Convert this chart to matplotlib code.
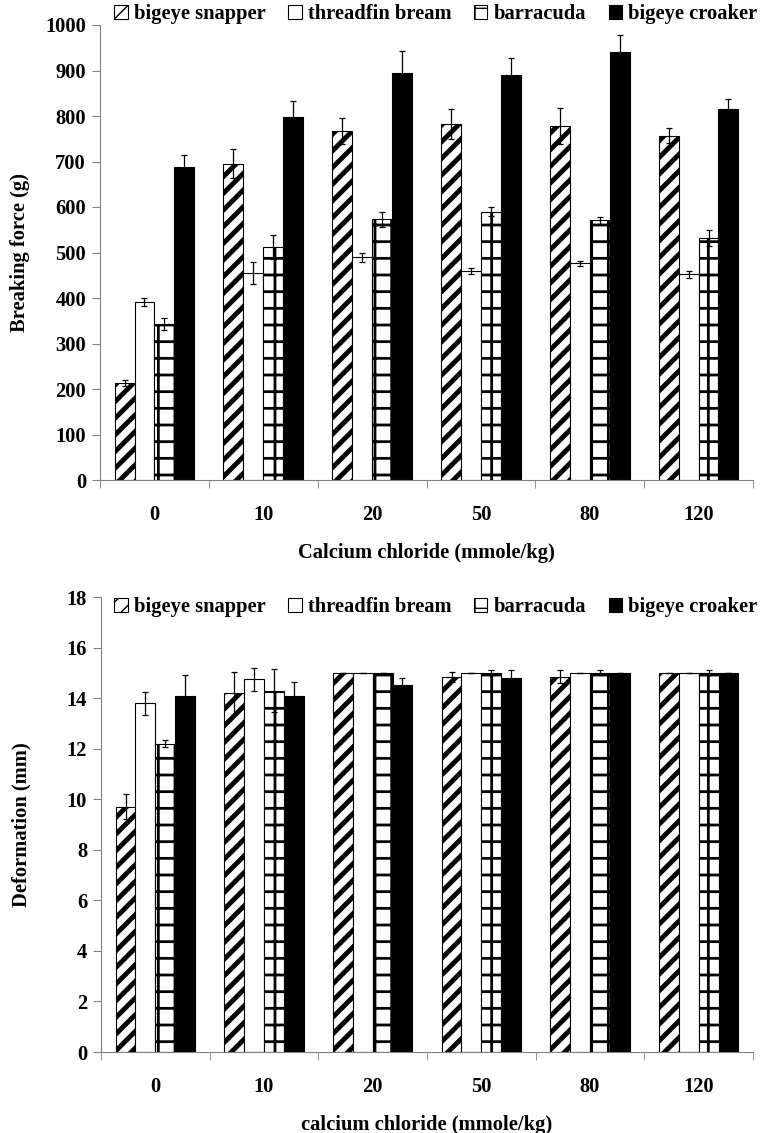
import numpy as np
import matplotlib
matplotlib.use("Agg")
import matplotlib.pyplot as plt

plt.rcParams['font.family'] = ['Liberation Serif', 'DejaVu Serif']
plt.rcParams['font.weight'] = 'bold'

categories = ['0', '10', '20', '50', '80', '120']
species = ['bigeye snapper', 'threadfin bream', 'barracuda', 'bigeye croaker']

# breaking force (g)
force_snapper = [213, 695, 767, 782, 778, 757]
force_bream = [392, 455, 490, 460, 476, 452]
force_barracuda = [343, 512, 573, 590, 571, 532]
force_croaker = [689, 798, 895, 891, 941, 815]
force_err_snapper = [7, 32, 28, 33, 40, 17]
force_err_bream = [9, 24, 10, 7, 6, 8]
force_err_barracuda = [13, 27, 17, 9, 8, 18]
force_err_croaker = [25, 36, 48, 37, 37, 23]

# deformation (mm)
deform_snapper = [9.7, 14.2, 15.0, 14.85, 14.85, 15.0]
deform_bream = [13.8, 14.75, 15.0, 15.0, 15.0, 15.0]
deform_barracuda = [12.2, 14.3, 15.0, 15.0, 15.0, 15.0]
deform_croaker = [14.1, 14.1, 14.5, 14.8, 15.0, 15.0]
deform_err_snapper = [0.5, 0.85, 0, 0.2, 0.25, 0]
deform_err_bream = [0.45, 0.45, 0, 0, 0, 0]
deform_err_barracuda = [0.15, 0.85, 0, 0.1, 0.1, 0.1]
deform_err_croaker = [0.8, 0.55, 0.3, 0.3, 0, 0]

hatches = ['//', '', '+', '']
faces = ['white', 'white', 'white', 'black']
hatch_lw = [3.5, 1.0, 2.0, 1.0]
gray = '#808080'
fs = 14.8


def draw(ax, series, errors, ylim, yticks, ylabel, xlabel, legend_y):
    x = np.arange(len(categories))
    w = 0.183
    for i, (vals, errs) in enumerate(zip(series, errors)):
        with plt.rc_context({'hatch.linewidth': hatch_lw[i]}):
            ax.bar(x + (i - 1.5) * w, vals, w, color=faces[i], edgecolor='black',
                   linewidth=0.8, hatch=hatches[i], label=species[i], zorder=2)
        ax.errorbar(x + (i - 1.5) * w, vals, yerr=errs, fmt='none', ecolor='black',
                    elinewidth=0.9, capsize=2.5, capthick=0.9, zorder=3)
    ax.set_xlim(-0.5, len(categories) - 0.5)
    ax.set_ylim(*ylim)
    ax.set_yticks(yticks)
    ax.set_xticks(x)
    ax.set_xticklabels(categories)
    ax.set_xticks(np.arange(len(categories) + 1) - 0.5, minor=True)
    ax.tick_params(axis='x', which='major', length=0, pad=18, labelsize=fs)
    ax.tick_params(axis='x', which='minor', length=6, color=gray)
    ax.tick_params(axis='y', length=6, color=gray, labelsize=fs, pad=4)
    for s in ['top', 'right']:
        ax.spines[s].set_visible(False)
    for s in ['left', 'bottom']:
        ax.spines[s].set_color(gray)
    ax.set_ylabel(ylabel, fontsize=fs, fontweight='bold')
    ax.yaxis.set_label_coords(-70 / 653, 0.5)
    ax.set_xlabel(xlabel, fontsize=fs, fontweight='bold', labelpad=13)
    ax.legend(loc='center', bbox_to_anchor=(436 / 774, legend_y), bbox_transform=fig.transFigure,
              ncol=4, frameon=False, fontsize=fs, handlelength=0.65, handleheight=0.65,
              handletextpad=0.3, columnspacing=1.1, borderaxespad=0)


fig = plt.figure(figsize=(7.74, 11.33), dpi=100)
ax1 = fig.add_axes([100 / 774, 1 - 480 / 1133, 653 / 774, 455 / 1133])
ax2 = fig.add_axes([101 / 774, 1 - 1052 / 1133, 652 / 774, 455 / 1133])

draw(ax1, [force_snapper, force_bream, force_barracuda, force_croaker],
     [force_err_snapper, force_err_bream, force_err_barracuda, force_err_croaker],
     (0, 1000), np.arange(0, 1001, 100), 'Breaking force (g)',
     'Calcium chloride (mmole/kg)', 1 - 14 / 1133)
draw(ax2, [deform_snapper, deform_bream, deform_barracuda, deform_croaker],
     [deform_err_snapper, deform_err_bream, deform_err_barracuda, deform_err_croaker],
     (0, 18), np.arange(0, 19, 2), 'Deformation (mm)',
     'calcium chloride (mmole/kg)', 1 - 607 / 1133)

fig.savefig('out.png', dpi=100)
